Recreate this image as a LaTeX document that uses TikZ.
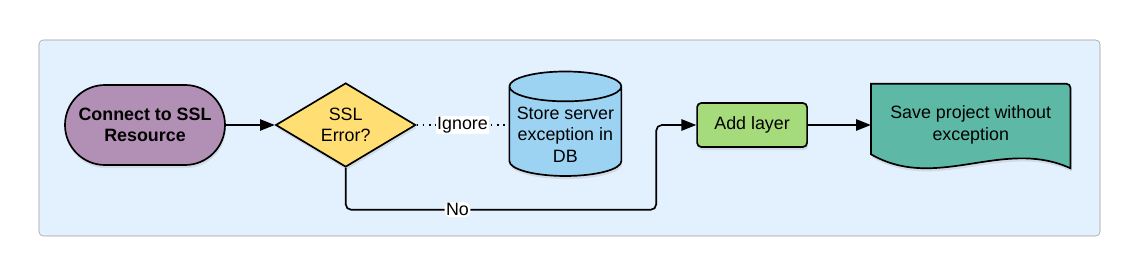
\documentclass[tikz,border=0pt]{standalone}
\usepackage{fontspec}
\setmainfont{Liberation Sans}
\usepackage{tikz}
\usetikzlibrary{arrows.meta,positioning,calc,shapes.geometric,shadows}
\definecolor{panel}{HTML}{E3F0FD}
\definecolor{panelline}{HTML}{9E9E9E}
\definecolor{plum}{HTML}{B28FB5}
\definecolor{sun}{HTML}{FFDF73}
\definecolor{sky}{HTML}{9CD2F2}
\definecolor{leaf}{HTML}{A6DB7B}
\definecolor{sea}{HTML}{5DB9A6}

\begin{document}
\begin{tikzpicture}[every node/.style={font=\fontsize{12.7}{15.3}\selectfont,align=center},shade/.style={drop shadow={opacity=0.18,shadow xshift=0.6pt,shadow yshift=-2.2pt}},term/.style={draw,line width=1.2pt,fill=plum,rounded corners=1cm,minimum width=4cm,minimum height=2cm,shade,font=\fontsize{12.7}{15.3}\selectfont\bfseries},decision/.style={draw,line width=1.2pt,fill=sun,diamond,aspect=1.67,inner sep=0pt,minimum width=3.5cm,minimum height=2.1cm,shade},store/.style={draw,line width=1.2pt,fill=sky,cylinder,shape border rotate=90,aspect=0.28,minimum width=2.8cm,minimum height=2.45cm,shade},procbox/.style={draw,line width=1.2pt,fill=leaf,rounded corners=3pt,minimum width=2.75cm,minimum height=1.1cm,shade},flow/.style={-{Triangle[length=10.5pt,width=8pt]},line width=1.2pt},lbl/.style={fill=white,inner sep=1pt}]
\useasboundingbox (0,0) rectangle (28.5,6.9);
\draw[panelline,fill=panel,rounded corners=3pt] (0.975,1.0) rectangle (27.5,5.9);
\node[term] (connect) at (3.625,3.775) {Connect to SSL\\ Resource};
\node[decision,right=1.225cm of connect] (sslerr) {SSL\\ Error?};
\node[store,right=2.3cm of sslerr,yshift=-0.24cm] (store) {Store server\\ exception in\\ DB};
\node[procbox,right=1.85cm of store,yshift=0.24cm] (layer) {Add layer};
\node[minimum width=4.975cm,minimum height=1.75cm,right=1.575cm of layer,yshift=0.15cm] (save) {};
% document shape with wavy bottom
\draw[line width=1.2pt,fill=sea,shade] (save.south west) -- (save.north west) [rounded corners=3pt] -- (save.north east) [sharp corners] -- ($(save.south east)+(0,-0.35)$) .. controls ($(save.south east)+(-1.7,0.425)$) and ($(save.south west)+(1.65,-0.95)$) .. (save.south west) -- cycle;
\node[yshift=-0.15cm] at (save) {Save project without\\ exception};
\draw[flow] (connect)--(sslerr);
\draw[line width=1.1pt,dash pattern=on 1.2pt off 3.2pt] (sslerr.east)--node[lbl]{Ignore}(sslerr.east-|store.west);
\draw[flow,rounded corners=4pt] (sslerr.south)--++(0,-1.05)-|node[lbl,pos=0.18]{No}($(layer.west)+(-1,0)$)--(layer.west);
\draw[flow] (layer.east)--(layer.east-|save.west);
\end{tikzpicture}
\end{document}
